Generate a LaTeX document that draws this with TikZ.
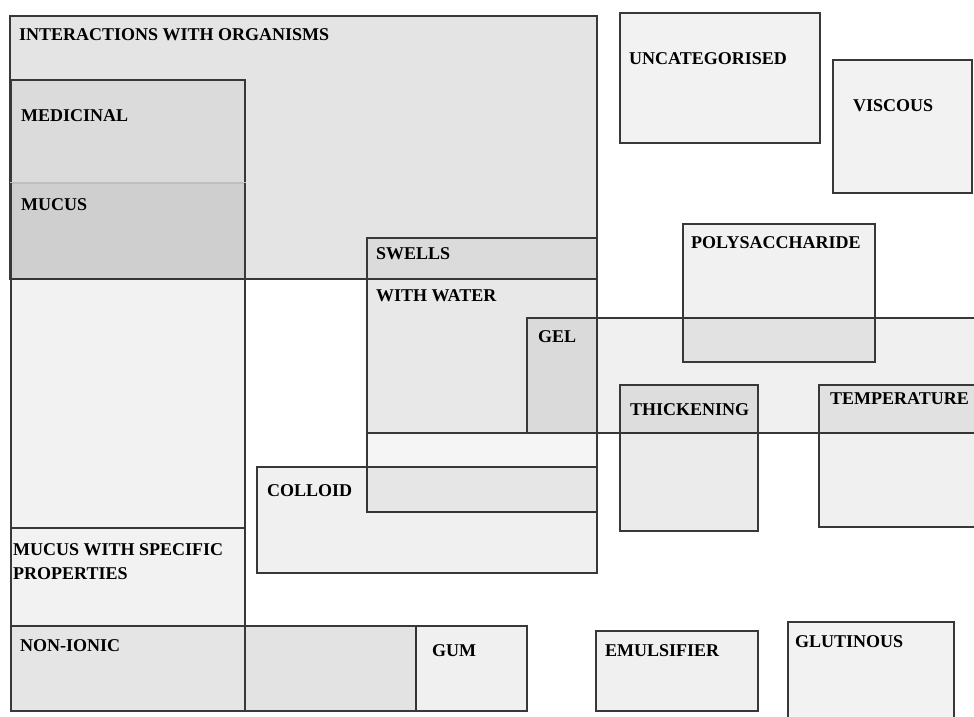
\documentclass[tikz,border=0pt]{standalone}
\usepackage{fontspec}
\setmainfont{Liberation Serif}
\begin{document}
\begin{tikzpicture}[x=1pt,y=-1pt,
  box/.style={draw=black!78, line width=1.2pt, fill=black, inner sep=0pt, outer sep=0pt, anchor=north west},
  lab/.style={inner sep=0pt, anchor=base west, font=\fontsize{18}{24}\selectfont\bfseries, text=black}]
\clip (0,0) rectangle (974,716);
\fill[white] (0,0) rectangle (974,716);
\newcommand{\bx}[6]{\node[box, fill opacity=#6, minimum width=#4-#2, minimum height=#5-#3] (#1) at (#2,#3) {};}
% boxes
\bx{inter}{10}{16}{597}{279}{0.105}
\bx{med}{11}{80}{245}{279}{0.035}
\node[box, draw=black!25, fill opacity=0.05, minimum width=234, minimum height=528] (mucus) at (11,183) {};
\draw[black!78, line width=1.2pt] (mucus.north west) -- (mucus.south west) -- (mucus.south east) -- (mucus.north east);
\node[box, fill=none, minimum width=234, minimum height=183] (msp) at (11,528) {};
\bx{nonionic}{11}{626}{416}{711}{0.05}
\bx{gum}{245}{626}{527}{711}{0.06}
\bx{swells}{367}{238}{597}{512}{0.04}
\bx{water}{367}{279}{597}{433}{0.05}
\bx{colloid}{257}{467}{597}{573}{0.06}
\bx{gel}{527}{318}{990}{433}{0.06}
\bx{poly}{683}{224}{875}{362}{0.055}
\bx{thick}{620}{385}{758}{531}{0.08}
\bx{temp}{819}{385}{990}{527}{0.06}
\bx{uncat}{620}{13}{820}{143}{0.05}
\bx{visc}{833}{60}{972}{193}{0.05}
\bx{emul}{596}{631}{758}{711}{0.06}
\bx{glut}{788}{622}{954}{740}{0.05}
% labels
\node[lab] (linter) at (19,40.5) {INTERACTIONS WITH ORGANISMS};
\node[lab] (lmed) at (21,121.5) {MEDICINAL};
\node[lab] (lmucus) at (21,210) {MUCUS};
\node[lab, anchor=north west, align=left] (lmsp) at (13,543) {MUCUS WITH SPECIFIC\\PROPERTIES};
\node[lab] (lnonionic) at (20,651) {NON-IONIC};
\node[lab] (lgum) at (432,656) {GUM};
\node[lab] (lswells) at (376,259) {SWELLS};
\node[lab] (lwater) at (376,301.5) {WITH WATER};
\node[lab] (lgel) at (538,342.5) {GEL};
\node[lab] (lcolloid) at (267,496) {COLLOID};
\node[lab] (lthick) at (630,415.5) {THICKENING};
\node[lab] (ltemp) at (830,404) {TEMPERATURE};
\node[lab] (lpoly) at (691,248) {POLYSACCHARIDE};
\node[lab] (luncat) at (629,64) {UNCATEGORISED};
\node[lab] (lvisc) at (853,111.5) {VISCOUS};
\node[lab] (lemul) at (605,656) {EMULSIFIER};
\node[lab] (lglut) at (795,647.5) {GLUTINOUS};
\end{tikzpicture}
\end{document}
